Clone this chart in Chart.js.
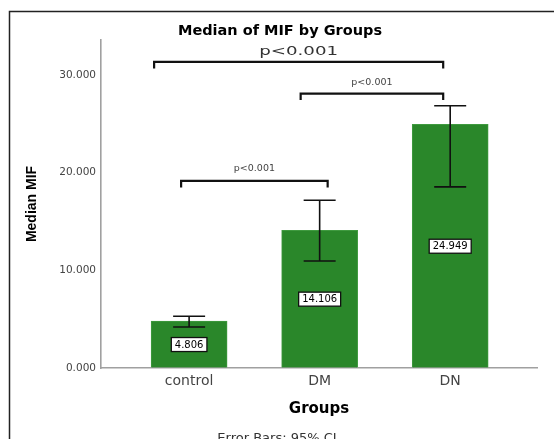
<!DOCTYPE html>
<html>
<head>
<meta charset="utf-8">
<script src="https://cdn.jsdelivr.net/npm/chart.js@4.4.1/dist/chart.umd.min.js"></script>
<style>
  html, body { margin: 0; padding: 0; background: #fff; overflow: hidden; }
  canvas { display: block; }
</style>
</head>
<body>
<canvas id="graficaMIF" width="554" height="439"></canvas>
<script>
// Datos de la gráfica
const categorias = ['control', 'DM', 'DN'];
const medianas = [4.806, 14.106, 24.949];
const icInferior = [4.20, 10.96, 18.55]; // límite inferior del IC 95%
const icSuperior = [5.30, 17.18, 26.87]; // límite superior del IC 95%
const ticksY = [0, 10, 20, 30];

// Comparaciones entre grupos (índices de grupo, nivel en unidades del eje Y y texto)
const comparacionDesde = [0, 1, 0];
const comparacionHasta = [1, 2, 2];
const comparacionNivel = [19.16, 28.11, 31.35];
const comparacionTexto = ['p<0.001', 'p<0.001', 'p<0.001'];

// Fondo blanco y marco exterior (solo lados izquierdo y superior visibles)
const fondoYMarco = {
    id: 'fondoYMarco',
    beforeDraw(chart) {
        const ctx = chart.ctx;
        ctx.save();
        ctx.fillStyle = '#fff';
        ctx.fillRect(0, 0, chart.width, chart.height);
        ctx.strokeStyle = '#222';
        ctx.lineWidth = 1.5;
        ctx.beginPath();
        ctx.moveTo(9.5, chart.height);
        ctx.lineTo(9.5, 11.5);
        ctx.lineTo(chart.width, 11.5);
        ctx.stroke();
        ctx.restore();
    }
};

// Barras de error (IC 95%)
const barrasError = {
    id: 'barrasError',
    afterDatasetsDraw(chart) {
        const { ctx, scales: { x, y } } = chart;
        ctx.save();
        ctx.strokeStyle = '#111';
        ctx.lineWidth = 1.6;
        categorias.forEach((c, i) => {
            const px = x.getPixelForValue(i);
            const y1 = y.getPixelForValue(icInferior[i]);
            const y2 = y.getPixelForValue(icSuperior[i]);
            ctx.beginPath();
            ctx.moveTo(px, y1); ctx.lineTo(px, y2);
            ctx.moveTo(px - 16, y1); ctx.lineTo(px + 16, y1);
            ctx.moveTo(px - 16, y2); ctx.lineTo(px + 16, y2);
            ctx.stroke();
        });
        ctx.restore();
    }
};

// Etiquetas con el valor de la mediana, en cajas blancas a media barra
const etiquetasValor = {
    id: 'etiquetasValor',
    afterDatasetsDraw(chart) {
        const { ctx, scales: { x, y } } = chart;
        ctx.save();
        ctx.font = '10px "DejaVu Sans"';
        ctx.textAlign = 'center';
        ctx.textBaseline = 'middle';
        medianas.forEach((v, i) => {
            const texto = v.toFixed(3);
            const px = x.getPixelForValue(i);
            const py = y.getPixelForValue(v / 2);
            const ancho = ctx.measureText(texto).width + 7;
            ctx.fillStyle = '#fff';
            ctx.fillRect(px - ancho / 2, py - 7, ancho, 14);
            ctx.strokeStyle = '#111';
            ctx.lineWidth = 1.3;
            ctx.strokeRect(px - ancho / 2, py - 7, ancho, 14);
            ctx.fillStyle = '#000';
            ctx.fillText(texto, px, py + 0.5);
        });
        ctx.restore();
    }
};

// Corchetes de significancia
const corchetes = {
    id: 'corchetes',
    afterDraw(chart) {
        const { ctx, scales: { x, y } } = chart;
        // ajustes de los extremos (px) y estilo de cada corchete
        const ajusteIzq = [-8, -19, -35];
        const ajusteDer = [8, -7, -7];
        const fuentes = ['9.5px "DejaVu Sans"', '9.5px "DejaVu Sans"', '13px "DejaVu Sans"'];
        const estirar = [1, 1, 1.4];
        const separacion = [12.5, 11.5, 10];
        ctx.save();
        comparacionTexto.forEach((t, i) => {
            const x1 = x.getPixelForValue(comparacionDesde[i]) + ajusteIzq[i];
            const x2 = x.getPixelForValue(comparacionHasta[i]) + ajusteDer[i];
            const py = y.getPixelForValue(comparacionNivel[i]);
            ctx.strokeStyle = '#111';
            ctx.lineWidth = 2.2;
            ctx.beginPath();
            ctx.moveTo(x1, py + 6.5);
            ctx.lineTo(x1, py);
            ctx.lineTo(x2, py);
            ctx.lineTo(x2, py + 6.5);
            ctx.stroke();
            ctx.save();
            ctx.translate((x1 + x2) / 2, py - separacion[i]);
            ctx.scale(estirar[i], 1);
            ctx.font = fuentes[i];
            ctx.fillStyle = i === 2 ? '#333' : '#444';
            ctx.textAlign = 'center';
            ctx.textBaseline = 'middle';
            ctx.fillText(t, 0, 0);
            ctx.restore();
        });
        ctx.restore();
    }
};

// Nota al pie sobre las barras de error
const notaPie = {
    id: 'notaPie',
    afterDraw(chart) {
        const ctx = chart.ctx;
        ctx.save();
        ctx.font = '13px "DejaVu Sans"';
        ctx.fillStyle = '#333';
        ctx.textAlign = 'center';
        ctx.textBaseline = 'alphabetic';
        ctx.fillText('Error Bars: 95% CI', 277, 442);
        ctx.restore();
    }
};

const ctx = document.getElementById('graficaMIF').getContext('2d');
new Chart(ctx, {
    type: 'bar',
    data: {
        datasets: [{
            label: 'Median MIF',
            data: medianas.map((v, i) => ({ x: i, y: v })),
            backgroundColor: '#2a872a',
            borderColor: '#3f9a3f',
            borderWidth: 1,
            barThickness: 76
        }]
    },
    options: {
        responsive: false,
        devicePixelRatio: 1,
        animation: false,
        layout: { padding: { left: 23, right: 17, top: 0, bottom: 0 } },
        plugins: {
            legend: { display: false },
            tooltip: { enabled: false },
            title: {
                display: true,
                text: 'Median of MIF by Groups',
                color: '#000',
                font: { family: 'DejaVu Sans', size: 14.5, weight: 'bold' },
                padding: { top: 22.6, bottom: 0 }
            }
        },
        scales: {
            x: {
                type: 'linear',
                offset: false,
                min: -0.675,
                max: 2.665,
                afterBuildTicks: s => { s.ticks = categorias.map((c, i) => ({ value: i })); },
                afterFit: s => { s.height = 71; },
                grid: { offset: false, drawOnChartArea: false, drawTicks: false },
                border: { display: true, color: '#a0a0a0', width: 1.6 },
                ticks: {
                    autoSkip: false,
                    maxRotation: 0,
                    padding: 5,
                    color: '#444',
                    font: { family: 'DejaVu Sans', size: 14 },
                    callback: v => categorias[v]
                },
                title: {
                    display: true,
                    text: 'Groups',
                    color: '#000',
                    font: { family: 'DejaVu Sans', size: 15, weight: 'bold' },
                    padding: { top: 0, bottom: 21 }
                }
            },
            y: {
                min: 0,
                max: 33.6,
                afterBuildTicks: s => { s.ticks = ticksY.map(v => ({ value: v })); },
                afterFit: s => { s.width = 78; },
                grid: { drawOnChartArea: false, drawTicks: false },
                border: { display: true, color: '#a0a0a0', width: 1.6 },
                ticks: {
                    padding: 5,
                    color: '#444',
                    font: { family: 'DejaVu Sans', size: 10.5 },
                    callback: v => v.toFixed(3)
                },
                title: {
                    display: true,
                    text: 'Median MIF',
                    color: '#000',
                    font: { family: 'Liberation Sans', size: 14, weight: 'bold' },
                    padding: { top: 1, bottom: 0 }
                }
            }
        }
    },
    plugins: [fondoYMarco, barrasError, etiquetasValor, corchetes, notaPie]
});
</script>
</body>
</html>
